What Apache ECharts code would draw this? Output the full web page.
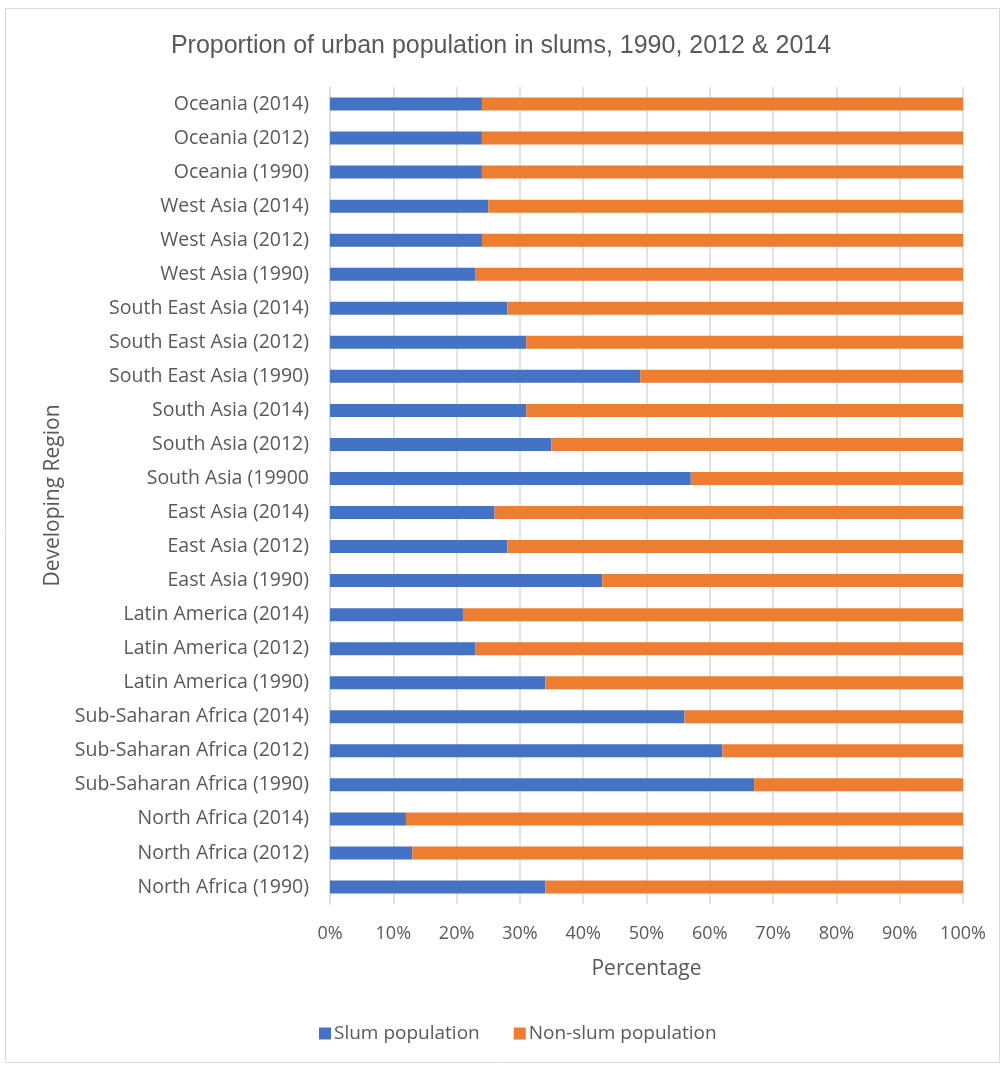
<!DOCTYPE html>
<html>
<head>
<meta charset="utf-8">
<script src="https://cdn.jsdelivr.net/npm/echarts@6/dist/echarts.min.js"></script>
<style>
  html, body { margin: 0; padding: 0; background: #ffffff; }
  #chart { width: 1002px; height: 1065px; }
</style>
</head>
<body>
<div id="chart"></div>
<script>
// Region / year categories, listed bottom to top
const categories = [
  'North Africa (1990)', 'North Africa (2012)', 'North Africa (2014)',
  'Sub-Saharan Africa (1990)', 'Sub-Saharan Africa (2012)', 'Sub-Saharan Africa (2014)',
  'Latin America (1990)', 'Latin America (2012)', 'Latin America (2014)',
  'East Asia (1990)', 'East Asia (2012)', 'East Asia (2014)',
  'South Asia (19900', 'South Asia (2012)', 'South Asia (2014)',
  'South East Asia (1990)', 'South East Asia (2012)', 'South East Asia (2014)',
  'West Asia (1990)', 'West Asia (2012)', 'West Asia (2014)',
  'Oceania (1990)', 'Oceania (2012)', 'Oceania (2014)'
];

// Share of urban population living in slums (%)
const slumPopulation = [
  34, 13, 12,
  67, 62, 56,
  34, 23, 21,
  43, 28, 26,
  57, 35, 31,
  49, 31, 28,
  23, 24, 25,
  24, 24, 24
];

// Share of urban population not living in slums (%)
const nonSlumPopulation = [
  66, 87, 88,
  33, 38, 44,
  66, 77, 79,
  57, 72, 74,
  43, 65, 69,
  51, 69, 72,
  77, 76, 75,
  76, 76, 76
];

const xTicks = [0, 10, 20, 30, 40, 50, 60, 70, 80, 90, 100];

const textColor = '#595959';
const fontFamily = '"Open Sans", "Liberation Sans", sans-serif';

const chart = echarts.init(document.getElementById('chart'), null, { renderer: 'canvas' });

chart.setOption({
  backgroundColor: '#ffffff',
  animation: false,
  textStyle: { fontFamily: fontFamily, color: textColor },
  graphic: [{
    type: 'rect',
    shape: { x: 5.5, y: 8.5, width: 994, height: 1054 },
    style: { fill: 'none', stroke: '#d9d9d9', lineWidth: 1 },
    silent: true,
    z: -1
  }],
  title: {
    text: 'Proportion of urban population in slums, 1990, 2012 & 2014',
    left: 'center',
    top: 29,
    textStyle: {
      fontFamily: '"Liberation Sans", Arial, sans-serif',
      fontSize: 25,
      fontWeight: 'normal',
      color: textColor
    }
  },
  legend: {
    top: 1019,
    left: 314,
    itemWidth: 12,
    itemHeight: 12,
    itemGap: 34,
    icon: 'rect',
    textStyle: { fontSize: 19, color: textColor, fontFamily: fontFamily, padding: [0, 0, 0, -2] },
    data: ['Slum population', 'Non-slum population']
  },
  grid: {
    left: 330,
    right: 39,
    top: 87,
    bottom: 161,
    containLabel: false
  },
  xAxis: {
    type: 'value',
    min: 0,
    max: 100,
    interval: 10,
    name: 'Percentage',
    nameLocation: 'middle',
    nameGap: 55,
    nameTextStyle: { fontSize: 21, color: textColor, fontFamily: fontFamily },
    axisLine: { show: false },
    axisTick: { show: false },
    axisLabel: {
      fontSize: 18,
      color: textColor,
      margin: 21,
      formatter: function (v) { return xTicks.indexOf(v) >= 0 ? v + '%' : ''; }
    },
    splitLine: { show: true, lineStyle: { color: '#d9d9d9', width: 1.5 } }
  },
  yAxis: {
    type: 'category',
    data: categories,
    name: 'Developing Region',
    nameLocation: 'middle',
    nameGap: 262,
    nameRotate: 90,
    nameTextStyle: { fontSize: 21, color: textColor, fontFamily: fontFamily },
    axisLine: { show: true, lineStyle: { color: '#d9d9d9', width: 1.5 } },
    axisTick: { show: false },
    axisLabel: { fontSize: 19.5, color: textColor, margin: 21, fontFamily: fontFamily },
    splitLine: { show: false }
  },
  series: [
    {
      name: 'Slum population',
      type: 'bar',
      stack: 'total',
      data: slumPopulation,
      barWidth: 13,
      itemStyle: { color: '#4472c4' }
    },
    {
      name: 'Non-slum population',
      type: 'bar',
      stack: 'total',
      data: nonSlumPopulation,
      barWidth: 13,
      itemStyle: { color: '#ed7d31' }
    }
  ]
});
</script>
</body>
</html>
